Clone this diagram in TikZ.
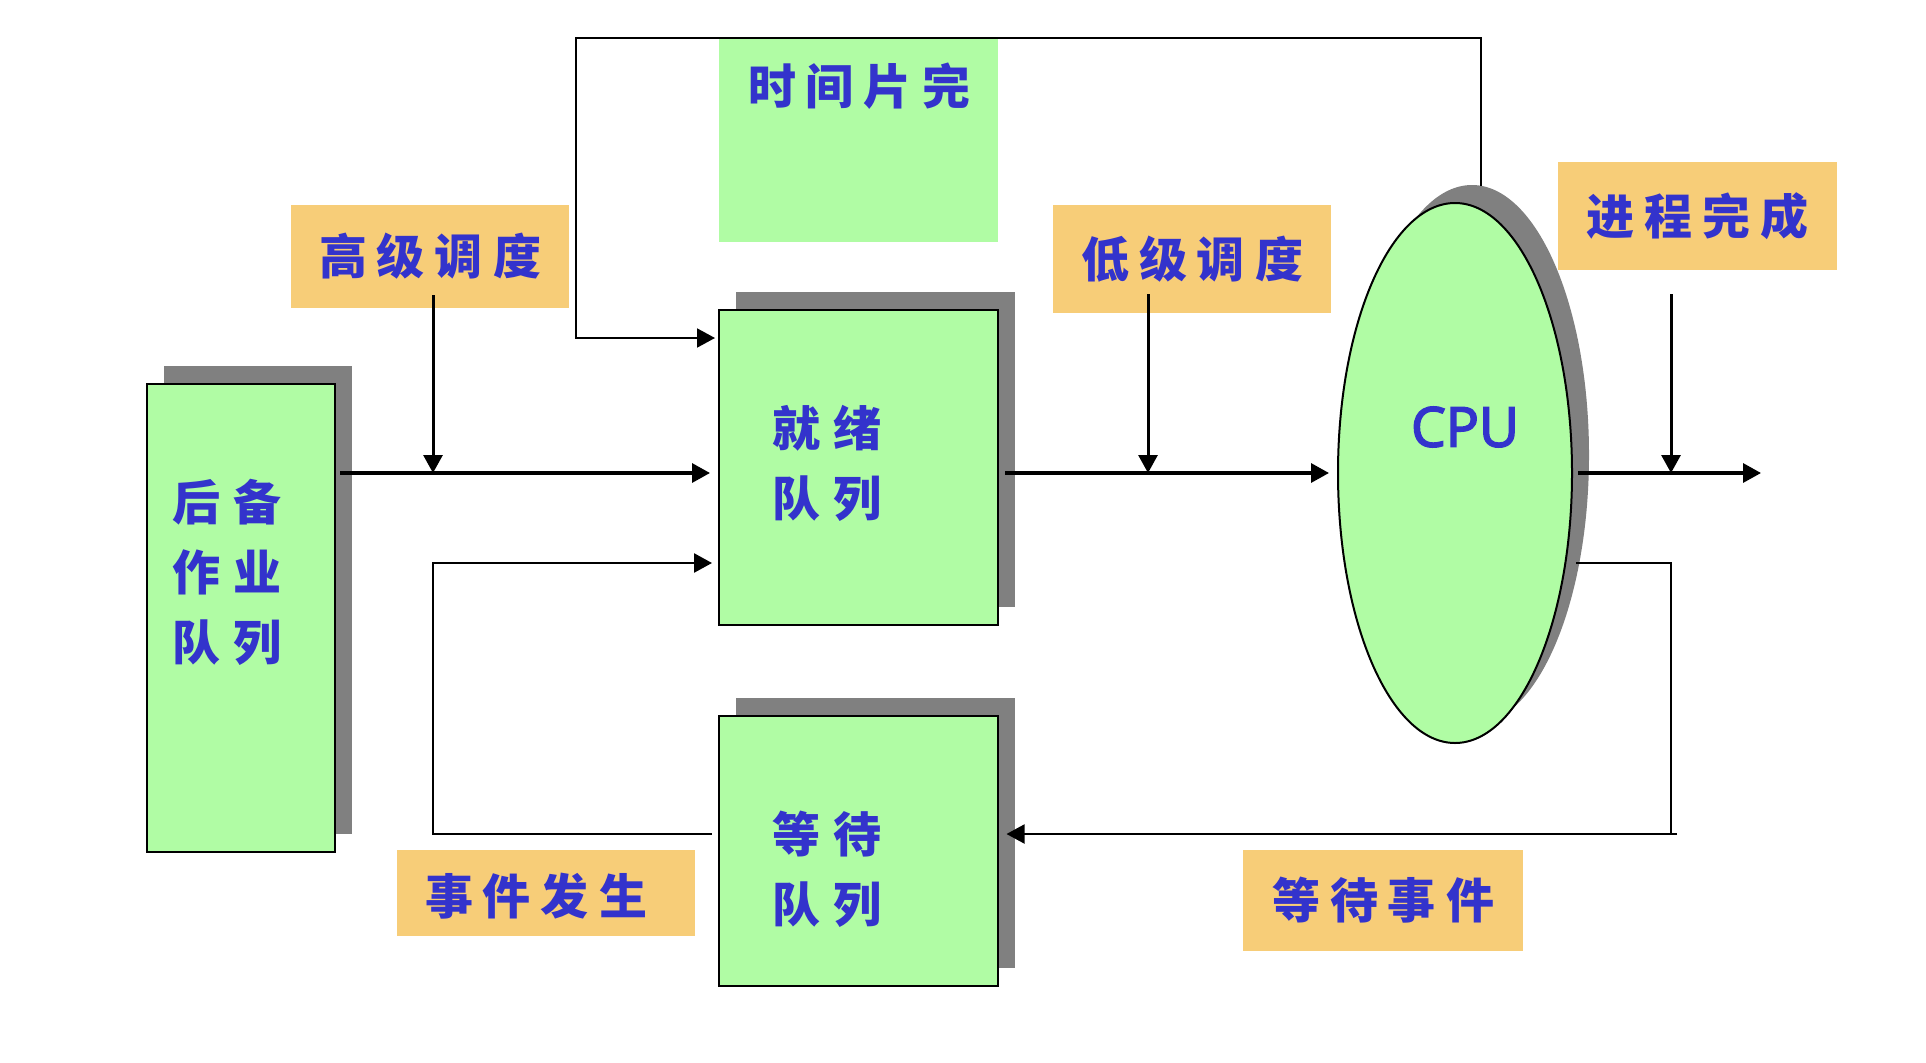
\documentclass[tikz,border=0pt]{standalone}
\usepackage{fontspec}
\newfontfamily\cjk{Noto Sans CJK SC}
\newfontfamily\cpufont[FakeBold=3]{Open Sans}
\usetikzlibrary{arrows.meta,shapes.geometric,shadows,calc}
\definecolor{qgreen}{RGB}{176,252,164}
\definecolor{lorange}{RGB}{247,205,120}
\definecolor{tblue}{RGB}{51,51,204}
\definecolor{shgray}{RGB}{128,128,128}
\newcommand\cjkgap{\hspace{10pt}}
\newcommand\cjkgapb{\hspace{13pt}}
\begin{document}
\begin{tikzpicture}[x=1pt,y=-1pt,
  >={Triangle[length=18pt,width=19pt]},
  shadowed/.style={drop shadow={shadow xshift=17pt,shadow yshift=18pt,fill=shgray,opacity=1}},
  queue/.style={draw=black,line width=2pt,fill=qgreen,rectangle,inner sep=0,shadowed},
  lab/.style={fill=lorange,inner sep=0,text=tblue,font=\cjk\bfseries\fontsize{48}{70}\selectfont},
  cjktext/.style={text=tblue,inner sep=0,font=\cjk\bfseries\fontsize{48}{70}\selectfont},
  flow/.style={line width=3.2pt,->},
  drop/.style={line width=3pt,->},
  ret/.style={line width=2.6pt,->},
  fb/.style={line width=2pt},
]
\fill[white] (0,0) rectangle (1926,1062);
\useasboundingbox (0,0) rectangle (1926,1062);

% boxes
\node[fill=qgreen,inner sep=0,minimum width=279pt,minimum height=203pt] (slice) at (858.5,140.5) {};
\node[queue,minimum width=188pt,minimum height=468pt] (backup) at (241,618) {};
\node[queue,minimum width=279pt,minimum height=315pt] (ready) at (858.5,467.5) {};
\node[queue,minimum width=279pt,minimum height=270pt] (wait) at (858,851) {};
\node[draw=black,line width=2pt,fill=qgreen,ellipse,inner sep=0,
      minimum width=234pt,minimum height=540pt,shadowed] (cpu) at (1455,473) {};

% labels
\node[lab,minimum width=278pt,minimum height=103pt] (hl) at (430,256.5) {高\cjkgap 级\cjkgap 调\cjkgap 度};
\node[lab,minimum width=278pt,minimum height=108pt] (ll) at (1192,259) {低\cjkgap 级\cjkgap 调\cjkgap 度};
\node[lab,minimum width=279pt,minimum height=108pt] (pc) at (1697.5,216) {进\cjkgap 程\cjkgap 完\cjkgap 成};
\node[lab,minimum width=298pt,minimum height=86pt] (ev) at (546,893) {};
\node[cjktext] (evt) at (536,896) {事\cjkgap 件\cjkgap 发\cjkgap 生};
\node[lab,minimum width=280pt,minimum height=101pt] (we) at (1383,900.5) {等\cjkgap 待\cjkgap 事\cjkgap 件};

% texts in boxes
\node[cjktext] (slicet) at (859,86) {时\cjkgap 间\cjkgap 片\cjkgap 完};
\node[cjktext,align=left,anchor=west] (backupt) at (172,572.5) {后\cjkgapb 备\\作\cjkgapb 业\\队\cjkgapb 列};
\node[cjktext,align=left,anchor=west] (readyt) at (772,463) {就\cjkgapb 绪\\队\cjkgapb 列};
\node[cjktext,align=left,anchor=west] (waitt) at (772,869) {等\cjkgapb 待\\队\cjkgapb 列};
\node[text=tblue,inner sep=0,font=\cpufont\fontsize{55}{60}\selectfont] (cput) at (1465,427) {CPU};

% helper coordinates
\coordinate (rowA) at (0,473);
\coordinate (rowB) at (0,563);
\coordinate (rowT) at (0,338);
\coordinate (rowW) at (0,834);
\coordinate (rowTop) at (0,38);
\coordinate (j1) at (433,473);
\coordinate (j2) at (1148,473);
\coordinate (j3) at (1671,473);
\coordinate (out) at (1761,473);
\coordinate (lx) at (576,0);
\coordinate (rx) at (1481,0);
\coordinate (fx) at (1671,0);

% connectors
\draw[flow,shorten <=4pt,shorten >=8pt] (backup.east |- rowA) -- (ready.west |- rowA);
\draw[drop] ([yshift=13pt]hl.south -| j1) -- (j1);
\draw[ret,shorten >=6pt] ([xshift=-6pt]wait.west |- rowW) -| (j1 |- rowB) -- (ready.west |- rowB);
\draw[flow,shorten <=6pt,shorten >=8pt] (ready.east |- rowA) -- (cpu.west);
\draw[drop] ([yshift=19pt]ll.south -| j2) -- (j2);
\draw[flow,shorten <=5pt] (cpu.east) -- (out);
\draw[drop] ([yshift=-24pt]pc.south -| j3) -- (j3);
\draw[fb] ($(cpu.center)+(121,90)$) -- (fx |- rowB) -- (fx |- rowW);
\draw[fb,->] ($(fx |- rowW)+(6,0)$) -- ([xshift=8pt]wait.east |- rowW);
\draw[fb,->,shorten >=3pt] ($(cpu.center)+(26,-287)$) -- (rx |- rowTop) -- (lx |- rowTop) -- (lx |- rowT) -- (ready.west |- rowT);
\end{tikzpicture}
\end{document}
